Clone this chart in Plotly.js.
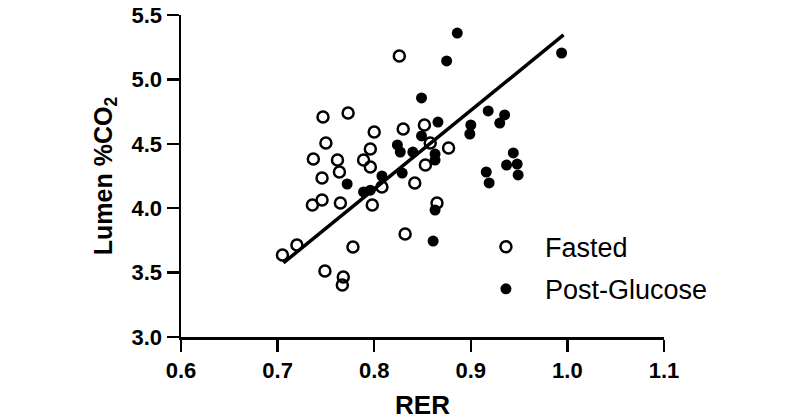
<!DOCTYPE html>
<html>
<head>
<meta charset="utf-8">
<script src="https://cdn.plot.ly/plotly-3.0.1.min.js"></script>
<style>html,body{margin:0;padding:0;background:#fff;}#chart{width:800px;height:420px;}</style>
</head>
<body>
<div id="chart"></div>
<script>
// Fasted (open circles)
const fastedRER = [0.705,0.720,0.747,0.773,0.750,0.800,0.830,0.737,0.762,0.764,0.796,0.789,0.796,0.746,0.736,0.746,0.765,0.798,0.808,0.832,0.778,0.749,0.768,0.767,0.826,0.852,0.877,0.853,0.842,0.865,0.858];
const fastedCO2 = [3.637,3.714,4.708,4.739,4.506,4.592,4.615,4.382,4.374,4.281,4.460,4.374,4.320,4.234,4.025,4.064,4.040,4.025,4.165,3.800,3.699,3.512,3.466,3.404,5.182,4.646,4.467,4.335,4.196,4.040,4.506];
// Post-Glucose (filled circles)
const glucoseRER = [0.886,0.875,0.994,0.849,0.918,0.935,0.930,0.900,0.899,0.866,0.849,0.840,0.824,0.827,0.863,0.863,0.829,0.808,0.772,0.789,0.796,0.916,0.919,0.944,0.937,0.948,0.949,0.863,0.861];
const glucoseCO2 = [5.360,5.143,5.205,4.856,4.755,4.724,4.661,4.646,4.576,4.669,4.561,4.436,4.491,4.436,4.420,4.374,4.273,4.250,4.188,4.126,4.140,4.281,4.196,4.429,4.335,4.343,4.258,3.986,3.745];
// Regression line endpoints
const fitRER = [0.706, 0.996];
const fitCO2 = [3.575, 5.345];
const xTicks = [0.6,0.7,0.8,0.9,1.0,1.1];
const xTickText = ['0.6','0.7','0.8','0.9','1.0','1.1'];
const yTicks = [3.0,3.5,4.0,4.5,5.0,5.5];
const yTickText = ['3.0','3.5','4.0','4.5','5.0','5.5'];

const data = [
  {x: fitRER, y: fitCO2, mode: 'lines', line: {color: '#000', width: 3.5}, showlegend: false, hoverinfo: 'skip'},
  {x: fastedRER, y: fastedCO2, mode: 'markers', name: 'Fasted', legendgroup: 'a',
   marker: {symbol: 'circle-open', size: 11, color: '#000', line: {width: 2.5, color: '#000'}}},
  {x: glucoseRER, y: glucoseCO2, mode: 'markers', name: 'Post-Glucose', legendgroup: 'b',
   marker: {symbol: 'circle', size: 11, color: '#000'}}
];

const fam = 'Liberation Sans, Arial, sans-serif';
const axisFont = {family: fam, size: 22, color: '#000', weight: 'bold'};
const layout = {
  width: 800, height: 420,
  margin: {l: 181, r: 136, t: 15, b: 83},
  paper_bgcolor: '#fff', plot_bgcolor: '#fff',
  font: {family: fam, color: '#000'},
  xaxis: {
    range: [0.6, 1.1], tickvals: xTicks, ticktext: xTickText,
    showgrid: false, zeroline: false, showline: true, linecolor: '#000', linewidth: 2.5,
    ticks: 'outside', ticklen: 12, tickwidth: 2.5, tickcolor: '#000',
    tickfont: axisFont,
    title: {text: '<b>RER</b>', font: {family: fam, size: 26, color: '#000'}, standoff: 20}
  },
  yaxis: {
    range: [3.0, 5.5], tickvals: yTicks, ticktext: yTickText,
    showgrid: false, zeroline: false, showline: true, linecolor: '#000', linewidth: 2.5,
    ticks: 'outside', ticklen: 12, tickwidth: 2.5, tickcolor: '#000',
    tickfont: axisFont,
    title: {text: '<b>Lumen %CO<sub>2</sub></b>', font: {family: fam, size: 25, color: '#000'}, standoff: 12}
  },
  legend: {
    x: 0.592, y: 0.355, xanchor: 'left', yanchor: 'top',
    font: {family: fam, size: 27, color: '#000'},
    bgcolor: 'rgba(0,0,0,0)', tracegroupgap: 4, itemwidth: 68
  },
  showlegend: true
};
Plotly.newPlot('chart', data, layout, {displayModeBar: false, staticPlot: true});
</script>
</body>
</html>
